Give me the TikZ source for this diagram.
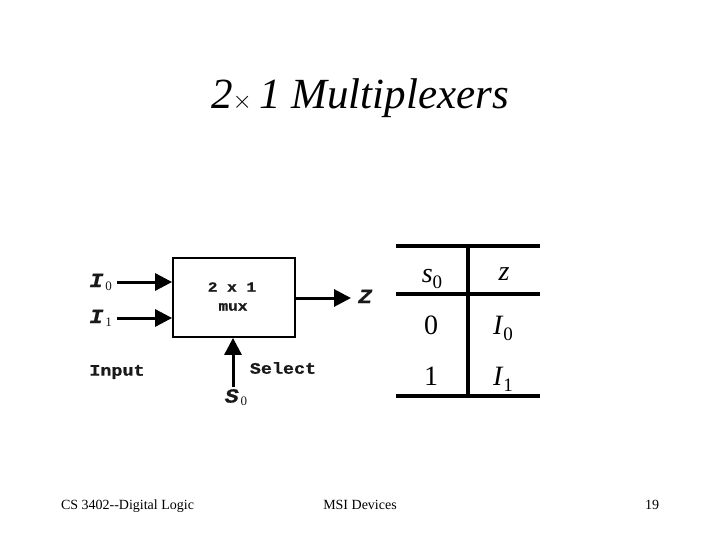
\documentclass[tikz,border=0pt]{standalone}
\usepackage{fontspec}
\setmainfont{Liberation Serif}
\newfontfamily\dmono[FakeStretch=1.15,FakeBold=1]{Liberation Mono}
\usetikzlibrary{arrows.meta,calc}
\tikzset{
  lab/.style={inner sep=0pt,font=\dmono\bfseries\fontsize{16}{16}\selectfont,text=black!90},
  boxlab/.style={lab,font=\dmono\bfseries\fontsize{14}{14}\selectfont},
  pin/.style={lab,text height=13pt,text depth=3pt},
  arr/.style={line width=3pt,-{Triangle[length=17pt,width=17pt]},shorten >=0pt},
  rule/.style={line width=3.6pt,black},
  cell/.style={inner sep=0pt,anchor=base,font=\fontsize{28}{28}\selectfont},
  foot/.style={inner sep=0pt,anchor=base,font=\fontsize{14}{16}\selectfont}
}
\newcommand{\itsub}[2]{\textit{#1}\raisebox{-6pt}{\fontsize{19}{19}\selectfont #2}}
\newcommand{\pinlabel}[2]{\textit{\fontsize{20}{20}\selectfont #1}\kern2pt\raisebox{-3pt}{\rmfamily\mdseries\fontsize{13}{13}\selectfont #2}}
\begin{document}
\begin{tikzpicture}[x=1pt,y=-1pt]
\useasboundingbox (0,0) rectangle (720,540);
\node[inner sep=0pt,anchor=base,font=\itshape\fontsize{43}{44}\selectfont] (title) at (360,109) {2{\fontsize{34}{34}\selectfont\upshape$\times$}\,1 Multiplexers};
\node[draw,line width=1.8pt,minimum width=122pt,minimum height=79pt,inner sep=0pt] (mux) at (234,297.5) {};
\node[boxlab] (muxa) at (232,287) {2 x 1};
\node[boxlab] (muxb) at (233,307) {mux};
\node[pin,anchor=east,inner xsep=5pt] (i0) at (117,282) {\pinlabel{I}{0}};
\node[pin,anchor=east,inner xsep=5pt] (i1) at (117,318) {\pinlabel{I}{1}};
\node[pin,anchor=west,inner xsep=7pt] (z) at (351,298) {\textit{\fontsize{20}{20}\selectfont Z}};
\node[lab,anchor=north,inner ysep=0pt] (s0) at (236,389) {\pinlabel{S}{0}};
\coordinate (s0top) at (233,387);
\node[lab] (input) at (117,372) {Input};
\node[lab] (select) at (283,368) {Select};
\draw[arr] (i0.east) -- (i0.east -| mux.west);
\draw[arr] (i1.east) -- (i1.east -| mux.west);
\draw[arr] (z.west -| mux.east) -- (z.west);
\draw[arr] (s0top) -- (s0top |- mux.south);
\coordinate (tl) at (396,246);
\coordinate (tr) at (540,246);
\coordinate (ml) at (396,294);
\coordinate (mr) at (540,294);
\coordinate (bl) at (396,396);
\coordinate (br) at (540,396);
\coordinate (vt) at (468,246);
\coordinate (vb) at (468,396);
\draw[rule] (tl) -- (tr);
\draw[rule] (ml) -- (mr);
\draw[rule] (bl) -- (br);
\draw[rule] (vt) -- (vb);
\node[cell] (c1) at (432,282) {\itsub{s}{0}};
\node[cell] (c2) at (504,280) {\textit{z}};
\node[cell] (c3) at (431,334) {0};
\node[cell] (c4) at (503,334) {\itsub{I}{0}};
\node[cell] (c5) at (431,385) {1};
\node[cell] (c6) at (503,385) {\itsub{I}{1}};
\node[foot] (f1) at (127.5,509) {CS 3402{-}{-}Digital Logic};
\node[foot] (f2) at (360,509) {MSI Devices};
\node[foot] (f3) at (652,509) {19};
\end{tikzpicture}
\end{document}
